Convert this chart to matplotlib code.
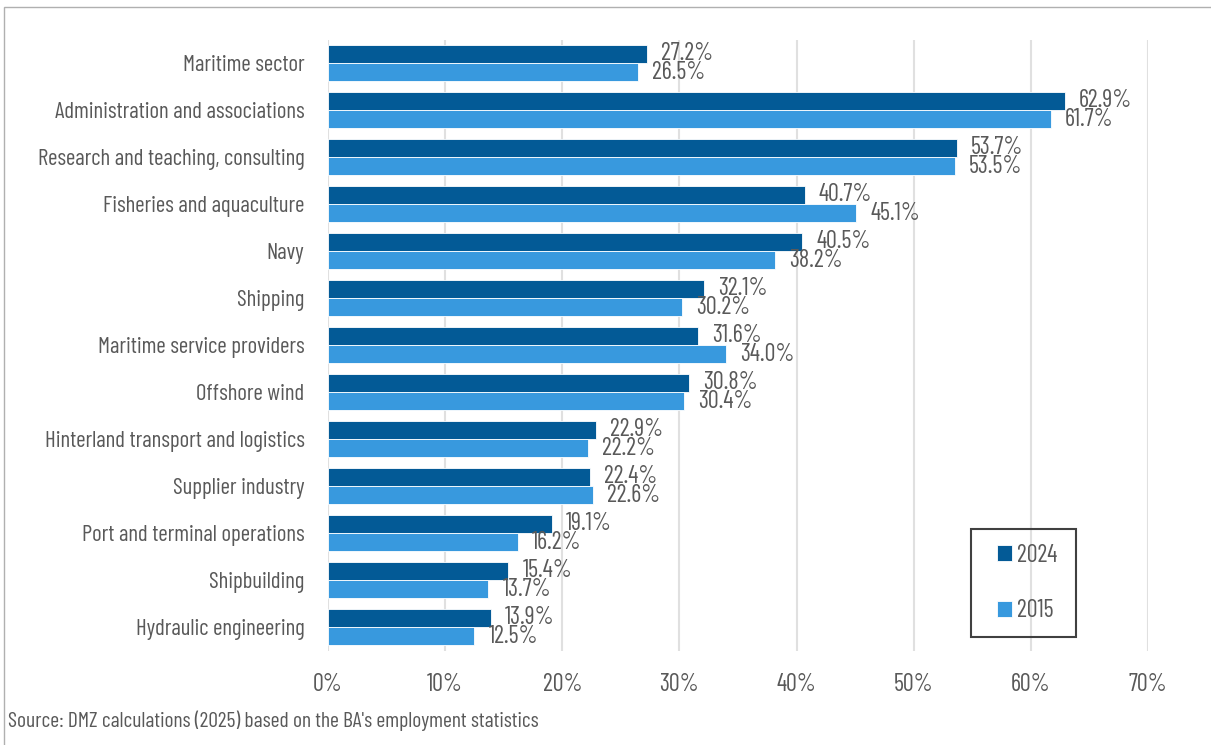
import matplotlib
matplotlib.use("Agg")
import matplotlib.pyplot as plt
from matplotlib.patches import Rectangle

plt.rcParams['font.family'] = ['Barlow Condensed', 'DejaVu Sans']

sectors = [
    "Maritime sector",
    "Administration and associations",
    "Research and teaching, consulting",
    "Fisheries and aquaculture",
    "Navy",
    "Shipping",
    "Maritime service providers",
    "Offshore wind",
    "Hinterland transport and logistics",
    "Supplier industry",
    "Port and terminal operations",
    "Shipbuilding",
    "Hydraulic engineering",
]
share_2024 = [27.2, 62.9, 53.7, 40.7, 40.5, 32.1, 31.6, 30.8, 22.9, 22.4, 19.1, 15.4, 13.9]
share_2015 = [26.5, 61.7, 53.5, 45.1, 38.2, 30.2, 34.0, 30.4, 22.2, 22.6, 16.2, 13.7, 12.5]
x_ticks = [0, 10, 20, 30, 40, 50, 60, 70]

DARK = "#035a96"
LIGHT = "#3899de"
TXT = "#595959"
W, H = 1211, 745

fig = plt.figure(figsize=(W / 100, H / 100), dpi=100)
ax = fig.add_axes([328 / W, 1 - 650.5 / H, (1148 - 328) / W, (650.5 - 39.5) / H])

# outer frame of the chart area
fig.patches.append(Rectangle((4 / W, -0.1), 1.2, 1 - 7 / H + 0.1, transform=fig.transFigure,
                             fill=False, edgecolor="#b0b0b0", linewidth=1.0))

y = list(range(len(sectors)))
h = 0.37
off = 0.195
b1 = ax.barh([i - off for i in y], share_2024, height=h, color=DARK, edgecolor="white", linewidth=0.6,
             label="2024", zorder=3)
b2 = ax.barh([i + off for i in y], share_2015, height=h, color=LIGHT, edgecolor="white", linewidth=0.6,
             label="2015", zorder=3)

for bars, vals in ((b1, share_2024), (b2, share_2015)):
    for b, v in zip(bars, vals):
        ax.text(v + 1.2, b.get_y() + b.get_height() / 2, f"{v:.1f}%", va="center", ha="left",
                fontsize=17.5, color=TXT, zorder=4)

ax.set_ylim(len(sectors) - 0.5, -0.5)
ax.set_xlim(0, 70)
ax.set_yticks(y)
ax.set_yticklabels(sectors, fontsize=16.5, color=TXT)
ax.set_xticks(x_ticks)
ax.set_xticklabels([f"{t}%" for t in x_ticks], fontsize=17.5, color=TXT)
ax.tick_params(axis="both", length=0)
ax.tick_params(axis="y", pad=17)
ax.tick_params(axis="x", pad=16)
ax.grid(True, axis="x", color="#e0e0e0", linewidth=1.5, zorder=0)
for s in ax.spines.values():
    s.set_visible(False)

# legend entries centred inside a separately drawn box
fig.patches.append(Rectangle((971 / W, 1 - 637 / H), 105 / W, 108 / H, transform=fig.transFigure,
                             fill=False, edgecolor="#404040", linewidth=1.5, zorder=5))
leg = ax.legend(loc="center", bbox_to_anchor=(1027 / W, 1 - 583 / H), bbox_transform=fig.transFigure,
                frameon=False, fontsize=17.5, handlelength=0.6, handleheight=0.6, handletextpad=0.2,
                labelspacing=1.35, borderpad=0, borderaxespad=0, labelcolor=TXT)

fig.text(8 / W, 1 - 721 / H, "Source: DMZ calculations (2025) based on the BA's employment statistics",
         fontsize=15.5, color=TXT, va="center", ha="left")

fig.savefig("out.png", dpi=100)
